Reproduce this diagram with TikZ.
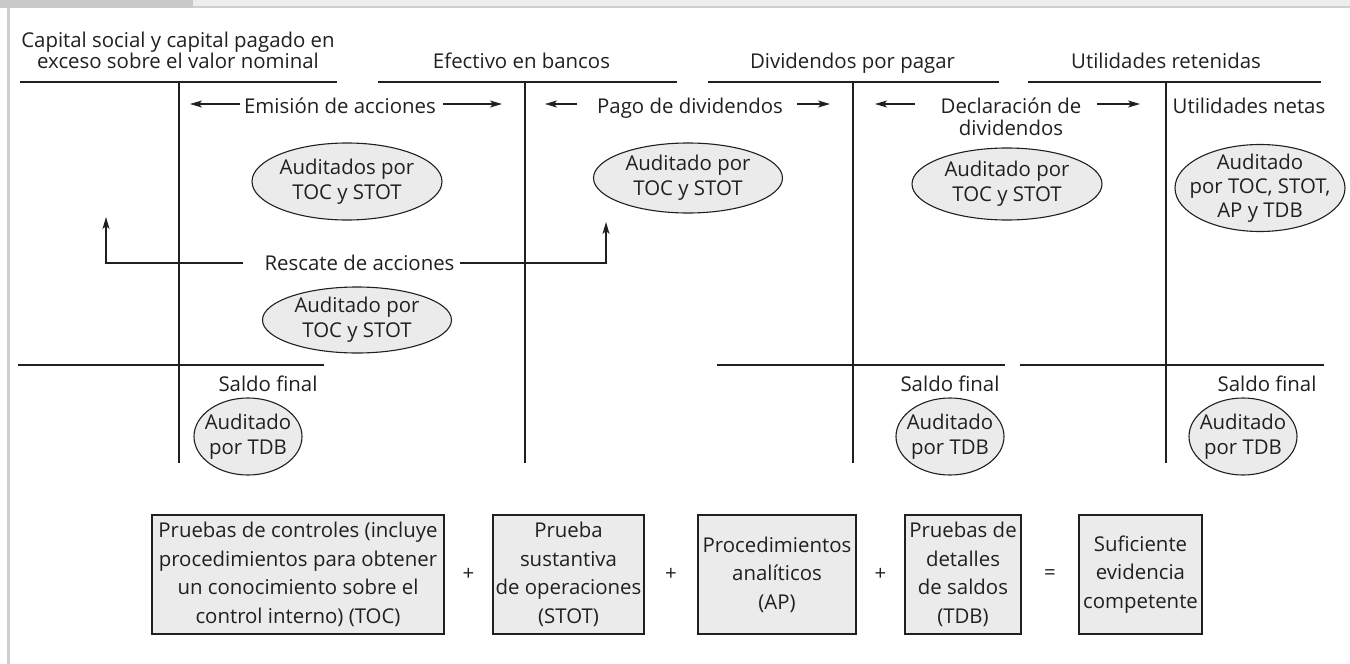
\documentclass[tikz,border=0pt]{standalone}
\usepackage{fontspec}
\setmainfont{Open Sans}
\usetikzlibrary{arrows.meta,shapes.geometric,calc}
\definecolor{fillg}{HTML}{EBEBEB}
\definecolor{barD}{HTML}{C9C9C9}
\definecolor{barL}{HTML}{EDEDED}
\definecolor{edge}{HTML}{CFCFCF}
\definecolor{ink}{HTML}{231F20}
\tikzset{
  hline/.style={draw=ink, line width=1.8pt},
  vline/.style={draw=ink, line width=1.2pt},
  arr/.style={draw=ink, line width=1.2pt, -{Stealth[length=12pt,width=7pt,inset=3pt]}},
  lbl/.style={anchor=base, inner sep=0pt, text=ink},
  oval/.style={ellipse, draw=ink, fill=fillg, line width=1.1pt, inner sep=0pt},
  otext/.style={inner sep=0pt, align=center, text=ink, font=\fontsize{20.4}{25}\selectfont},
  bx/.style={draw=ink, fill=fillg, line width=1.1pt, inner sep=0pt, align=center,
    minimum height=119pt, text=ink, font=\fontsize{20.4}{28.5}\selectfont},
  op/.style={inner sep=0pt, text=ink}
}
\begin{document}
\begin{tikzpicture}[x=1pt,y=-1pt,font=\fontsize{20.4}{22}\selectfont]
\useasboundingbox (0,0) rectangle (1350,664);
% frame decoration
\fill[barL] (193,0) rectangle (1350,6);
\draw[edge, line width=2pt] (193,7) -- (1350,7);
\fill[barD] (0,0) rectangle (193,8);
\draw[edge, line width=2.7pt] (8.5,8) -- (8.5,664);

% headers
\node[lbl] (h1a) at (178,47) {Capital social y capital pagado en};
\node[lbl] (h1b) at (178,68) {exceso sobre el valor nominal};
\node[lbl] (h2) at (521.5,68) {Efectivo en bancos};
\node[lbl] (h3) at (852.5,68) {Dividendos por pagar};
\node[lbl] (h4) at (1166,68) {Utilidades retenidas};

% T accounts
\draw[hline] (20,82) -- (337,82);
\draw[hline] (378,82) -- (677,82);
\draw[hline] (708,82) -- (999,82);
\draw[hline] (1028,82) -- (1321,82);
\draw[vline] (179,82) -- (179,463);
\draw[vline] (525,82) -- (525,463);
\draw[vline] (853,82) -- (853,463);
\draw[vline] (1166,82) -- (1166,463);
\draw[hline] (18,365) -- (324,365);
\draw[hline] (717,365) -- (1005,365);
\draw[hline] (1020,365) -- (1324,365);

% transactions
\node[lbl] (emis) at (340,113) {Emisión de acciones};
\coordinate (emisLt) at (240,104); \coordinate (emisLh) at (190,104);
\coordinate (emisRt) at (443,104); \coordinate (emisRh) at (502,104);
\draw[arr] (emisLt) -- (emisLh);
\draw[arr] (emisRt) -- (emisRh);

\node[lbl] (pago) at (690,113) {Pago de dividendos};
\coordinate (pagoLt) at (577,104); \coordinate (pagoLh) at (545,104);
\coordinate (pagoRt) at (797,104); \coordinate (pagoRh) at (830,104);
\draw[arr] (pagoLt) -- (pagoLh);
\draw[arr] (pagoRt) -- (pagoRh);

\node[lbl] (decla) at (1011,113) {Declaración de};
\node[lbl] (declb) at (1011,135) {dividendos};
\coordinate (declLt) at (915,104); \coordinate (declLh) at (875,104);
\coordinate (declRt) at (1097,104); \coordinate (declRh) at (1140,104);
\draw[arr] (declLt) -- (declLh);
\draw[arr] (declRt) -- (declRh);

\node[lbl] (netas) at (1249,113) {Utilidades netas};

% ellipses
\node[oval, minimum width=190pt, minimum height=77pt] (e1) at (347,181.5) {};
\node[otext] (t1) at (e1) {Auditados por\\TOC y STOT};
\node[oval, minimum width=189pt, minimum height=70pt] (e2) at (688,178) {};
\node[otext] (t2) at (e2) {Auditado por\\TOC y STOT};
\node[oval, minimum width=190pt, minimum height=72pt] (e3) at (1007,184) {};
\node[otext] (t3) at (e3) {Auditado por\\TOC y STOT};
\node[oval, minimum width=170pt, minimum height=87pt] (e4) at (1260,188) {};
\node[otext, font=\fontsize{20.4}{24}\selectfont] (t4) at (e4) {Auditado\\por TOC, STOT,\\AP y TDB};

% rescate
\node[lbl] (resc) at (359.5,270) {Rescate de acciones};
\coordinate (rescLs) at (243,263); \coordinate (rescL) at (106,263); \coordinate (rescLh) at (106,217);
\coordinate (rescRs) at (460,263); \coordinate (rescR) at (606,263); \coordinate (rescRh) at (606,222);
\draw[arr] (rescLs) -- (rescL) -- (rescLh);
\draw[arr] (rescRs) -- (rescR) -- (rescRh);
\node[oval, minimum width=189pt, minimum height=66pt] (e5) at (357,320) {};
\node[otext] (t5) at (e5) {Auditado por\\TOC y STOT};

% saldo final
\node[lbl] (s1) at (268,391) {Saldo final};
\node[lbl] (s3) at (950,391) {Saldo final};
\node[lbl] (s4) at (1267,391) {Saldo final};
\node[oval, minimum width=108pt, minimum height=77pt] (f1) at (248,436.5) {};
\node[otext] (g1) at (f1) {Auditado\\por TDB};
\node[oval, minimum width=108pt, minimum height=77pt] (f3) at (950,436.5) {};
\node[otext] (g3) at (f3) {Auditado\\por TDB};
\node[oval, minimum width=108pt, minimum height=77pt] (f4) at (1243,436.5) {};
\node[otext] (g4) at (f4) {Auditado\\por TDB};

% bottom equation
\node[bx, minimum width=292pt] (b1) at (298,574.5) {Pruebas de controles (incluye\\procedimientos para obtener\\un conocimiento sobre el\\control interno) (TOC)};
\node[bx, minimum width=151pt] (b2) at (568.5,574.5) {Prueba\\sustantiva\\de operaciones\\(STOT)};
\node[bx, minimum width=158pt] (b3) at (777,574.5) {Procedimientos\\analíticos\\(AP)};
\node[bx, minimum width=116pt] (b4) at (963,574.5) {Pruebas de\\detalles\\de saldos\\(TDB)};
\node[bx, minimum width=123pt] (b5) at (1140.5,574.5) {Suficiente\\evidencia\\competente};
\node[op] (p1) at ($(b1.east)!0.5!(b2.west)$) {+};
\node[op] (p2) at ($(b2.east)!0.5!(b3.west)$) {+};
\node[op] (p3) at ($(b3.east)!0.5!(b4.west)$) {+};
\node[op] (eq) at ($(b4.east)!0.5!(b5.west)$) {=};
\end{tikzpicture}
\end{document}
